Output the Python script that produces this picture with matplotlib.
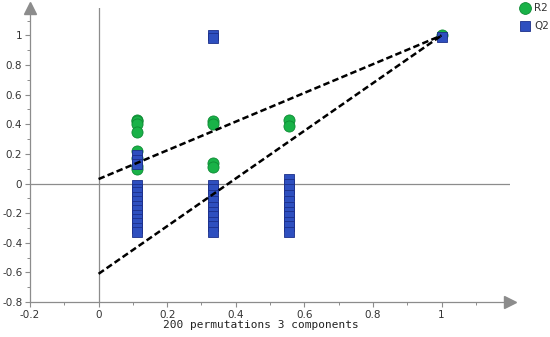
import matplotlib
matplotlib.use("Agg")
import matplotlib.pyplot as plt
from matplotlib.ticker import MultipleLocator, FuncFormatter
from matplotlib.lines import Line2D

# Permutation test data
r2_x = [0.111]*8 + [0.333]*4 + [0.556]*2 + [1.0]
r2_y = [0.43, 0.42, 0.40, 0.35, 0.22, 0.17, 0.12, 0.10,
        0.42, 0.40, 0.14, 0.11,
        0.43, 0.39,
        1.0]
q2_x = [0.111]*15 + [0.333]*12 + [0.556]*11 + [1.0]
q2_y = [0.19, 0.16, 0.13, -0.01, -0.04, -0.06, -0.09, -0.12, -0.15, -0.18, -0.21, -0.24, -0.27, -0.30, -0.33,
        1.0, 0.98, -0.01, -0.04, -0.08, -0.12, -0.16, -0.19, -0.22, -0.26, -0.29, -0.33,
        0.03, 0.00, -0.04, -0.08, -0.12, -0.16, -0.19, -0.22, -0.26, -0.29, -0.33,
        0.99]
r2_line_x = [0, 1]
r2_line_y = [0.03, 1.0]
q2_line_x = [0, 1]
q2_line_y = [-0.61, 1.0]
xlabel = "200 permutations 3 components"

green = "#19b248"
green_edge = "#0e8a34"
blue = "#2e4fbf"
blue_edge = "#1c2f8a"
gray = "#8c8c8c"

fig = plt.figure(figsize=(5.5, 3.37), dpi=100)
ax = fig.add_axes([0.0545, 0.104, 0.873, 0.872])
ax.set_xlim(-0.2, 1.2)
ax.set_ylim(-0.8, 1.185)

for s in ["top", "right"]:
    ax.spines[s].set_visible(False)
for s in ["left", "bottom"]:
    ax.spines[s].set_color(gray)
    ax.spines[s].set_linewidth(0.9)

ax.xaxis.set_major_locator(MultipleLocator(0.2))
ax.xaxis.set_minor_locator(MultipleLocator(0.1))
ax.yaxis.set_major_locator(MultipleLocator(0.2))
ax.yaxis.set_minor_locator(MultipleLocator(0.1))
fmt = FuncFormatter(lambda v, p: f"{round(v, 2):g}")
ax.xaxis.set_major_formatter(fmt)
ax.yaxis.set_major_formatter(fmt)
ax.set_xticks([t/10 for t in range(-2, 11, 2)])
ax.set_yticks([t/10 for t in range(-8, 11, 2)])
ax.tick_params(which="major", length=3.5, width=0.8, color=gray, labelsize=7.5, labelcolor="#333333", pad=2)
ax.tick_params(which="minor", length=2, width=0.7, color=gray)

# zero reference lines
ax.axhline(0, color=gray, lw=0.9, zorder=1)
ax.axvline(0, color=gray, lw=0.9, zorder=1)

# arrows at axis ends
ax.plot(1, 0, marker=">", transform=ax.transAxes, clip_on=False, color=gray, markersize=8, zorder=5)
ax.plot(0, 1, marker="^", transform=ax.transAxes, clip_on=False, color=gray, markersize=8, zorder=5)

ax.plot(r2_line_x, r2_line_y, color="black", lw=1.8, ls=(0, (2.6, 1.3)), zorder=4)
ax.plot(q2_line_x, q2_line_y, color="black", lw=1.8, ls=(0, (2.6, 1.3)), zorder=4)

ax.plot(r2_x, r2_y, ls="none", marker="o", markersize=8, markerfacecolor=green,
        markeredgecolor=green_edge, markeredgewidth=0.6, zorder=3)
ax.plot(q2_x, q2_y, ls="none", marker="s", markersize=7.3, markerfacecolor=blue,
        markeredgecolor=blue_edge, markeredgewidth=0.6, zorder=3)

fig.text(0.475, 0.036, xlabel, family="DejaVu Sans Mono", fontsize=8, ha="center", va="center", color="#222222")

# legend
fig.add_artist(Line2D([525/550], [1-8/337], marker="o", markersize=8.5, markerfacecolor=green,
                      markeredgecolor=green_edge, markeredgewidth=0.6, ls="none", transform=fig.transFigure))
fig.add_artist(Line2D([525/550], [1-26/337], marker="s", markersize=7.5, markerfacecolor=blue,
                      markeredgecolor=blue_edge, markeredgewidth=0.6, ls="none", transform=fig.transFigure))
fig.text(534/550, 1-8/337, "R2", fontsize=7.5, va="center", ha="left", color="#333333")
fig.text(534/550, 1-26/337, "Q2", fontsize=7.5, va="center", ha="left", color="#333333")

fig.savefig("out.png", dpi=100)
